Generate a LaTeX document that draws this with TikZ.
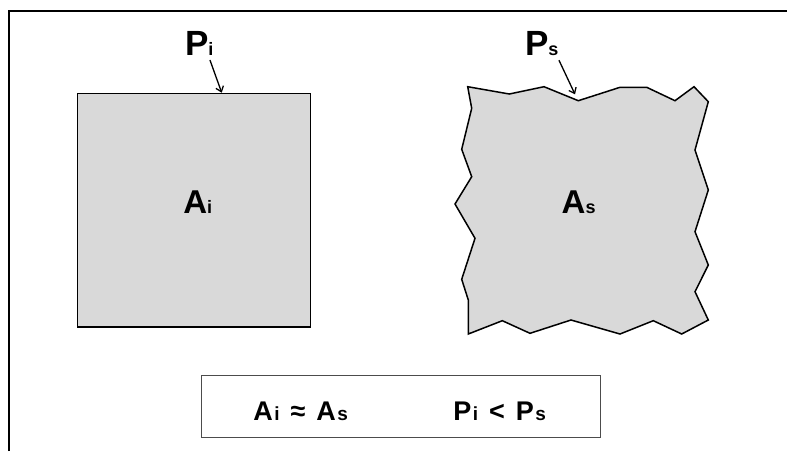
\documentclass[tikz,border=0pt]{standalone}
\usepackage{fontspec}
\setmainfont{Liberation Sans}
\usetikzlibrary{arrows.meta}
\definecolor{areagray}{RGB}{217,217,217}
\newcommand{\symlbl}[3]{{\fontsize{#1}{#1}\selectfont\bfseries #2}{\fontsize{18}{18}\selectfont\bfseries #3}}
\newcommand{\boxlbl}[2]{{\fontsize{27}{27}\selectfont\bfseries #1}\hspace{1.5pt}{\fontsize{19}{19}\selectfont\bfseries #2}}
\newcommand{\relsym}[1]{\hspace{11pt}{\fontsize{27}{27}\selectfont\bfseries #1}\hspace{11pt}}
\begin{document}
\begin{tikzpicture}[x=1pt,y=-1pt,
  outline/.style={draw=black,line width=1.5pt,fill=areagray,line join=miter},
  lbl/.style={anchor=base west,inner sep=0pt,outer sep=0pt},
  pointer/.style={line width=1.3pt,-{Straight Barb[length=5pt,width=8pt]}}]
\useasboundingbox (0,0) rectangle (787,451);
\draw[line width=1.5pt] (9,451) -- (9,11) -- (787,11);
% regular shape
\draw[outline] (77.3,93.3) rectangle (310.7,327);
% irregular shape
\draw[outline] (467.7,86.7) -- (509.3,94) -- (544,86.7) -- (578.3,100.7)
  -- (620,87.3) -- (646.7,87.3) -- (675,100.7) -- (694,86.7) -- (708.3,101.7)
  -- (695,150) -- (708.3,190) -- (695,231.7) -- (708.3,265) -- (695,291.7)
  -- (708.3,320) -- (681.7,334) -- (653.3,320.7) -- (620,334) -- (571,320)
  -- (530,333.3) -- (502.3,320.7) -- (468.3,334) -- (468.3,300) -- (461.7,279.3)
  -- (475,238.3) -- (455,204) -- (471.7,176.7) -- (461.7,149.3) -- (471.7,108.3)
  -- cycle;
\node[lbl] (ai) at (183.3,213.3) {\symlbl{33}{A}{i}};
\node[lbl] (as) at (561.7,213.3) {\symlbl{33}{A}{s}};
\node[lbl] (pi) at (185,55) {\symlbl{35}{P}{i}};
\node[lbl] (ps) at (525,55) {\symlbl{35}{P}{s}};
\coordinate (pitip) at (221.7,92.7);
\coordinate (pstip) at (575,94.3);
\draw[pointer] ([shift={(-3.4,5)}]pi.south east) -- (pitip);
\draw[pointer] ([shift={(0.6,5)}]ps.south east) -- (pstip);
% summary box
\draw[draw=black!70,line width=0.8pt] (201,375) rectangle (600.7,437.3);
\node[lbl] (arearel) at (253.3,420) {\boxlbl{A}{i}\relsym{≈}\boxlbl{A}{s}};
\node[lbl] (perirel) at (453.3,420) {\boxlbl{P}{i}\relsym{<}\boxlbl{P}{s}};
\end{tikzpicture}
\end{document}
